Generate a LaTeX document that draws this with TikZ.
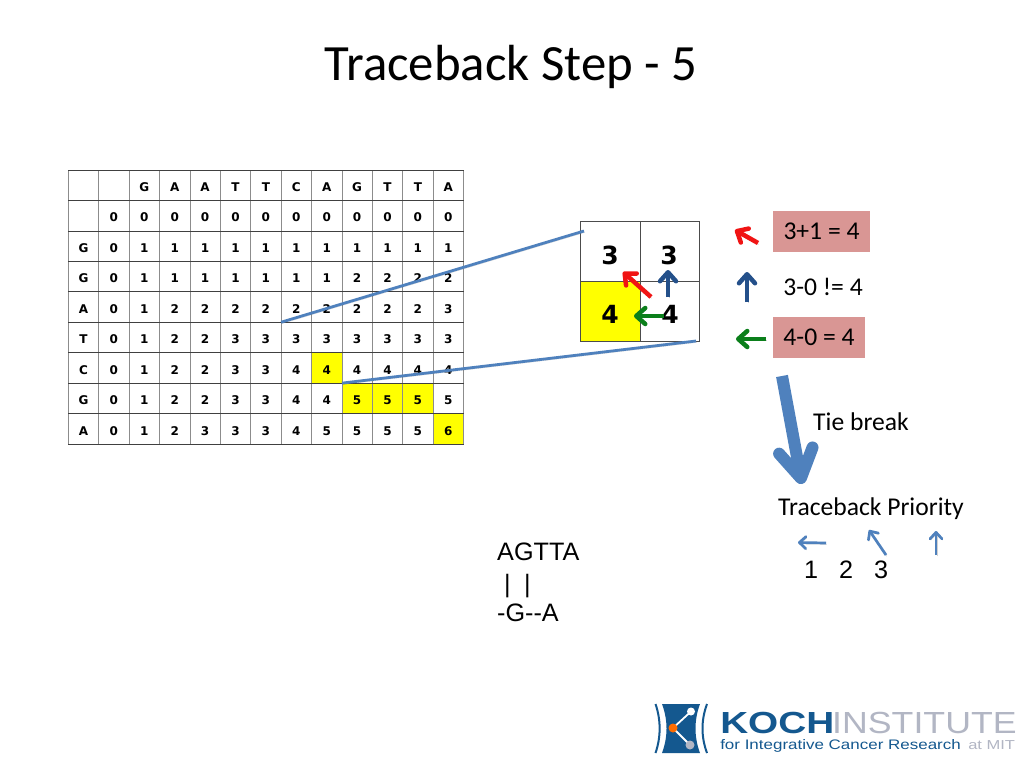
\documentclass[tikz,border=0pt]{standalone}
\usepackage{fontspec}
\usetikzlibrary{arrows.meta}
\setmainfont{Carlito}
\newfontfamily\cellfont{DejaVu Sans}
\newfontfamily\arialfont{Liberation Sans}
\definecolor{linkblue}{HTML}{4F81BD}
\definecolor{navyarrow}{HTML}{24508A}
\definecolor{greenarrow}{HTML}{0B7F1B}
\definecolor{redarrow}{HTML}{F01414}
\definecolor{pinkbox}{HTML}{D99694}
\definecolor{tabyellow}{HTML}{FFFF00}
\definecolor{kochblue}{HTML}{14588F}
\definecolor{kochgrey}{HTML}{B2B6C4}
\tikzset{
  cellbox/.style={minimum width=30.4pt,minimum height=30.45pt,inner sep=0pt,outer sep=0pt,draw=black!45,line width=.7pt,text height=12.5pt,text depth=0pt,font=\cellfont\bfseries\fontsize{12}{14}\selectfont},
  bigcell/.style={minimum width=59.5pt,minimum height=60pt,inner sep=0pt,outer sep=0pt,draw=black!70,line width=.8pt},
  bigdigit/.style={inner sep=0pt,text height=18pt,text depth=0pt,font=\cellfont\bfseries\fontsize{25}{29}\selectfont},
  softshadow/.style={preaction={draw=black,opacity=.18,transform canvas={shift={(.8pt,-1.4pt)}}}},
  barbarrow/.style={line width=4.5pt,softshadow,-{Straight Barb[round,length=9pt,width=16pt]}},
  thinarrow/.style={line width=2.7pt,draw=linkblue,softshadow,-{Straight Barb[round,length=6.5pt,width=12pt]}},
  link/.style={line width=2.8pt,draw=linkblue,softshadow},
  calc/.style={inner sep=0pt,font=\fontsize{25.6}{30}\selectfont},
  pinkrect/.style={fill=pinkbox,draw=none,inner sep=0pt,calc},
  arialtext/.style={inner sep=0pt,anchor=base west,font=\arialfont\fontsize{25.2}{30}\selectfont},
}
\begin{document}
\begin{tikzpicture}[x=1pt,y=-1pt]
\useasboundingbox (0,0) rectangle (1024,768);
\fill[white] (0,0) rectangle (1024,768);
\node[inner sep=0pt,anchor=base,font=\fontsize{50.8}{60}\selectfont] (title) at (511,80) {Traceback Step - 5};
% alignment table
\foreach \row [count=\r from 0] in {
 {,,G,A,A,T,T,C,A,G,T,T,A},
 {,0,0,0,0,0,0,0,0,0,0,0,0},
 {G,0,1,1,1,1,1,1,1,1,1,1,1},
 {G,0,1,1,1,1,1,1,1,2,2,2,2},
 {A,0,1,2,2,2,2,2,2,2,2,2,3},
 {T,0,1,2,2,3,3,3,3,3,3,3,3},
 {C,0,1,2,2,3,3,4,4,4,4,4,4},
 {G,0,1,2,2,3,3,4,4,5,5,5,5},
 {A,0,1,2,3,3,3,4,5,5,5,5,6}} {
  \foreach \v [count=\c from 0] in \row {
    \def\cellfill{white}
    \ifnum\r=6 \ifnum\c=8 \def\cellfill{tabyellow}\fi\fi
    \ifnum\r=7 \ifnum\c>8 \ifnum\c<12 \def\cellfill{tabyellow}\fi\fi\fi
    \ifnum\r=8 \ifnum\c=12 \def\cellfill{tabyellow}\fi\fi
    \node[cellbox,fill=\cellfill] (c-\r-\c) at ({68.3+15.2+30.4*\c},{170+15.2+30.45*\r}) {\v};
  }
}
\foreach \r in {0,...,8} {
  \draw[black!75,line width=.7pt] (c-\r-0.north west) -- (c-\r-12.north east);
  \draw[black!75,line width=.7pt] (c-\r-0.south west) -- (c-\r-12.south east);
}
% zoomed cells
\node[bigcell] (b00) at (610.2,251.5) {};
\node[bigcell] (b01) at (669.7,251.5) {};
\node[bigcell,fill=tabyellow] (b10) at (610.2,311.5) {};
\node[bigcell] (b11) at (669.7,311.5) {};
\node[bigdigit] (d00) at (610,255) {3};
\node[bigdigit] (d01) at (669,255) {3};
\node[bigdigit] (d10) at (610,314) {4};
\node[bigdigit] (d11) at (670,314) {4};
% zoom lines
\coordinate (zoomtop) at (584,231);
\coordinate (zoombot) at (696,341);
\draw[link] (c-5-7.north west) -- (zoomtop);
\draw[link] (c-7-9.north west) -- (zoombot);
% arrows in the zoomed cells
\coordinate (ra1) at (651,297); \coordinate (ra2) at (623,272);
\coordinate (ba1) at (668,297); \coordinate (ba2) at (668,270);
\coordinate (ga1) at (664,316); \coordinate (ga2) at (634,316);
\draw[barbarrow,draw=redarrow] (ra1) -- (ra2);
\draw[barbarrow,draw=navyarrow] (ba1) -- (ba2);
\draw[barbarrow,draw=greenarrow] (ga1) -- (ga2);
% right column
\node[pinkrect,minimum width=97pt,minimum height=41pt] (sum1) at (821.5,231.5) {3+1 = 4};
\node[calc] (sum2) at (823,287) {3-0 != 4};
\node[pinkrect,minimum width=92pt,minimum height=41pt] (sum3) at (819,337.5) {4-0 = 4};
\coordinate (rb1) at (758,243); \coordinate (rb2) at (735,230);
\coordinate (bb1) at (747,302); \coordinate (bb2) at (747,272);
\coordinate (gb1) at (766,339); \coordinate (gb2) at (736,339);
\draw[barbarrow,draw=redarrow] (rb1) -- (rb2);
\draw[barbarrow,draw=navyarrow] (bb1) -- (bb2);
\draw[barbarrow,draw=greenarrow] (gb1) -- (gb2);
% tie break
\coordinate (tb1) at (782,376); \coordinate (tb2) at (802,484);
\draw[line width=12pt,draw=linkblue,softshadow,-{Straight Barb[round,length=28pt,width=34pt]}] (tb1) -- (tb2);
\node[calc,anchor=base west] (tie) at (813,430) {Tie break};
\node[calc,anchor=base west] (prio) at (778,515) {Traceback Priority};
\coordinate (p1a) at (826,543); \coordinate (p1b) at (798,542.5);
\coordinate (p2a) at (886,555); \coordinate (p2b) at (869,530);
\coordinate (p3a) at (936,555); \coordinate (p3b) at (936,531);
\draw[thinarrow] (p1a) -- (p1b);
\draw[thinarrow] (p2a) -- (p2b);
\draw[thinarrow] (p3a) -- (p3b);
\node[arialtext] (nums) at (804,578) {1\hspace{21pt}2\hspace{21pt}3};
% alignment text
\node[arialtext] (al1) at (497,560) {AGTTA};
\node[arialtext] (al2) at (504,592) {|\hspace{13.5pt}|};
\node[arialtext] (al3) at (497,621) {-G--A};
% logo
\fill[kochblue] (662,704) .. controls (668,720) and (668,737) .. (662,753) -- (700,753) .. controls (694,737) and (694,720) .. (700,704) -- cycle;
\draw[kochblue,line width=2pt] (655.5,704) .. controls (661,720) and (661,737) .. (655.5,753);
\draw[kochblue,line width=2pt] (707,704) .. controls (701,720) and (701,737) .. (707,753);
\coordinate (lgA) at (691,711.5); \coordinate (lgB) at (673,728); \coordinate (lgC) at (690,745);
\draw[white,line width=1.8pt] (lgA) -- (lgB) -- (lgC);
\fill[white] (lgA) circle (4pt);
\fill[kochgrey] (lgC) circle (4.5pt);
\fill[orange!85!red] (lgB) circle (4.5pt);
\node[inner sep=0pt,anchor=base west,xscale=1.27,text=kochblue,font=\arialfont\bfseries\fontsize{30.5}{36}\selectfont] (koch) at (720,733) {KOCH};
\node[inner sep=0pt,anchor=base west,xscale=1.17,text=kochgrey,font=\arialfont\fontsize{30.5}{36}\selectfont] (inst) at (832,733) {INSTITUTE};
\node[inner sep=0pt,anchor=base west,xscale=1.23,text=kochblue,font=\arialfont\fontsize{13.8}{16}\selectfont] (sub) at (720,749) {for Integrative Cancer Research};
\node[inner sep=0pt,anchor=base west,xscale=1.27,text=kochgrey,font=\arialfont\fontsize{13}{16}\selectfont] (mit) at (968,749) {at MIT};
\end{tikzpicture}
\end{document}
